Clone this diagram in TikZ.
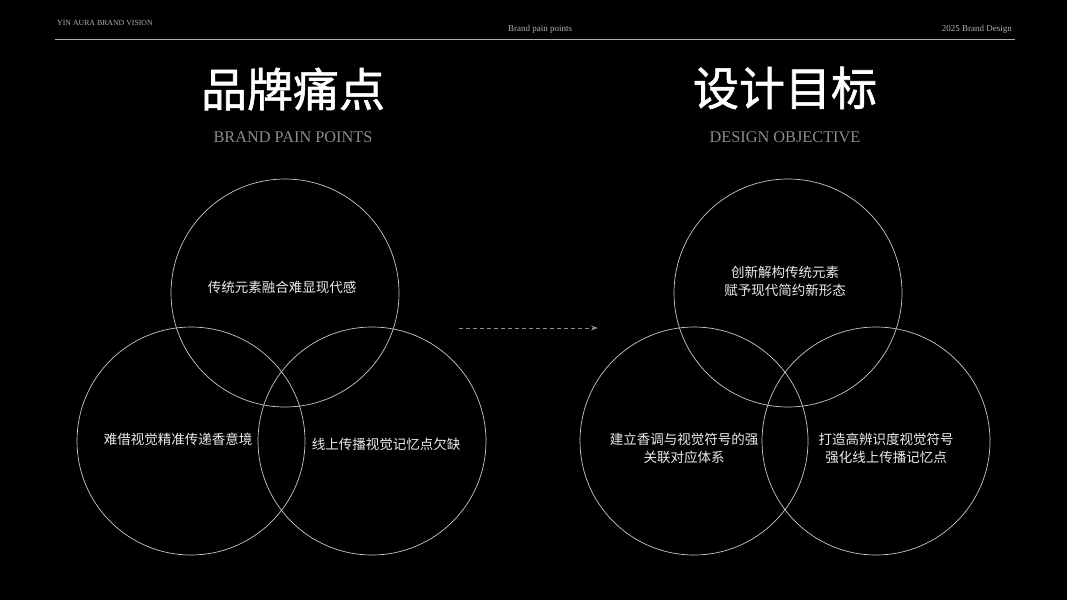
\documentclass[tikz,border=0pt]{standalone}
\usepackage{fontspec}
\setmainfont{Liberation Serif}
\newfontfamily\cjk{Noto Sans CJK SC}
\newfontfamily\cjkt[FakeBold=1.3]{Noto Sans CJK SC}
\usetikzlibrary{arrows.meta}
\definecolor{hdr}{HTML}{B0B0B0}
\definecolor{sub}{HTML}{8C8C8C}
\definecolor{ring}{HTML}{C8C8C8}
\definecolor{txt}{HTML}{ECECEC}
\tikzset{
  ringnode/.style={circle,draw=ring,line width=0.7pt,minimum size=228pt,inner sep=0pt},
  hdrtext/.style={text=hdr,font=\fontsize{9}{10}\selectfont,inner sep=0pt},
  titletext/.style={text=white,font=\cjkt\fontsize{46}{50}\selectfont,inner sep=0pt},
  subtext/.style={text=sub,font=\fontsize{16.3}{19}\selectfont,inner sep=0pt},
  bodytext/.style={text=txt,font=\cjk\fontsize{13.5}{18}\selectfont,align=center,inner sep=0pt},
}
\begin{document}
\begin{tikzpicture}[x=1pt,y=-1pt]
\fill[black] (0,0) rectangle (1067,600);
\useasboundingbox (0,0) rectangle (1067,600);
% header
\node[hdrtext,font=\fontsize{7.8}{9}\selectfont,anchor=west] (h1) at (57,23) {YIN AURA BRAND VISION};
\node[hdrtext] (h2) at (540,29) {Brand pain points};
\node[hdrtext,anchor=east] (h3) at (1012,29) {2025 Brand Design};
\coordinate (la) at (55,39.5);
\coordinate (lb) at (1015,39.5);
\draw[hdr,line width=0.8pt] (la) -- (lb);
% titles
\node[titletext] (t1) at (293,89) {品牌痛点};
\node[subtext] (s1) at (293,137) {BRAND PAIN POINTS};
\node[titletext] (t2) at (785,88) {设计目标};
\node[subtext] (s2) at (785,137) {DESIGN OBJECTIVE};
% left circles
\node[ringnode] (c1) at (285,293) {};
\node[ringnode] (c2) at (191,441) {};
\node[ringnode] (c3) at (372,441) {};
\node[bodytext] (x1) at (282,287) {传统元素融合难显现代感};
\node[bodytext] (x2) at (178,439) {难借视觉精准传递香意境};
\node[bodytext] (x3) at (386,444) {线上传播视觉记忆点欠缺};
% right circles
\node[ringnode] (d1) at (788,293) {};
\node[ringnode] (d2) at (694,441) {};
\node[ringnode] (d3) at (876,441) {};
\node[bodytext] (y1) at (785,281) {创新解构传统元素\\赋予现代简约新形态};
\node[bodytext] (y2) at (684,448) {建立香调与视觉符号的强\\关联对应体系};
\node[bodytext] (y3) at (886,448) {打造高辨识度视觉符号\\强化线上传播记忆点};
% arrow
\coordinate (a1) at (459,328);
\coordinate (a2) at (598,328);
\draw[sub,line width=0.9pt,dash pattern=on 4pt off 3pt,-{Stealth[length=7pt,width=5pt]}] (a1) -- (a2);
\end{tikzpicture}
\end{document}
